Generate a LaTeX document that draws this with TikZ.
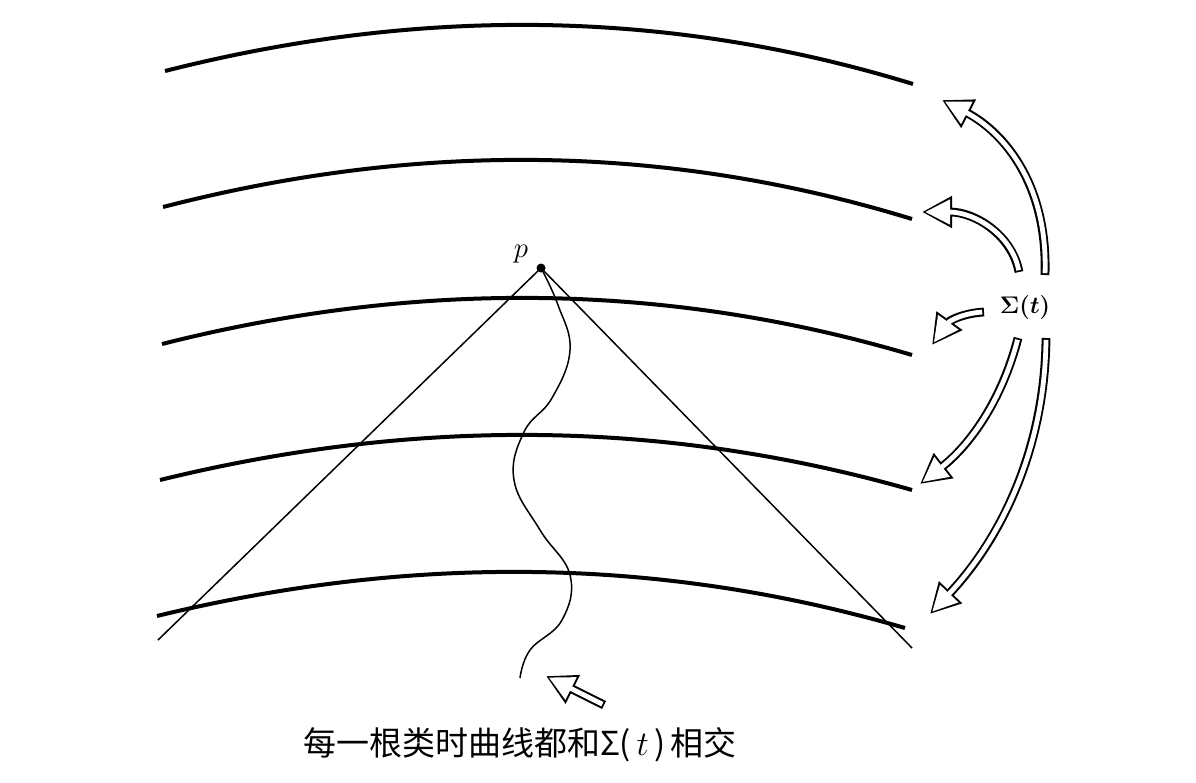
\documentclass[tikz,border=0pt]{standalone}
\usepackage[no-math]{fontspec}
\newfontfamily\cjk{Noto Sans CJK SC}
\usetikzlibrary{arrows.meta}
\begin{document}
\begin{tikzpicture}[x=0.5pt,y=-0.5pt,
  sheet/.style={line width=2pt},
  thinline/.style={line width=0.75pt},
  hollow/.style={line width=4.4pt,-{Triangle[length=15pt,width=15pt]}},
  hollowin/.style={line width=2.4pt,white,shorten <=0.9pt,shorten >=1.6pt,-{Triangle[length=12.4pt,width=12pt]}}]
\useasboundingbox (0,0) rectangle (1196,783);
\draw[sheet] (165,71) .. controls (415,7.5) and (664,7.5) .. (913,84);
\draw[sheet] (163,207) .. controls (413,142.3) and (662,142.3) .. (912,219);
\draw[sheet] (162,344) .. controls (412,280.8) and (662,280.8) .. (912,355);
\draw[sheet] (160,480) .. controls (411,418.3) and (661,418.3) .. (912,490);
\draw[sheet] (157,616) .. controls (406,555.3) and (656,555.3) .. (905,628);
\coordinate (p) at (541,268);
\coordinate (l) at (158,640);
\coordinate (r) at (912,648);
\draw[thinline] (l) -- (p) -- (r);
\fill (p) circle (4.5);
\node[font=\fontsize{14}{14}\selectfont] (plab) at (521,254) {$p$};
\draw[thinline,smooth,tension=0.7] plot coordinates {(541,268) (558,305) (570,350) (552,398) (524,432) (514,480) (540,530) (570,575) (562,620) (530,650) (520,678)};
\node[font={\boldmath\fontsize{13}{13}\selectfont}] (sig) at (1025,307) {$\Sigma(t)$};
\coordinate (a1s) at (1045,275); \coordinate (a1e) at (942,100);
\coordinate (a2s) at (1019,272); \coordinate (a2e) at (922,212);
\coordinate (a3s) at (984,312); \coordinate (a3e) at (932,345);
\coordinate (a4s) at (1018,338); \coordinate (a4e) at (920,484);
\coordinate (a5s) at (1046,338); \coordinate (a5e) at (930,614);
\coordinate (b1s) at (604,705); \coordinate (b1e) at (546,676);
\foreach \st in {hollow,hollowin}{
\draw[\st] (a1s) .. controls (1048,180) and (1000,130) .. (a1e);
\draw[\st] (a2s) .. controls (1012,235) and (975,212) .. (a2e);
\draw[\st] (a3s) .. controls (965,313) and (950,320) .. (a3e);
\draw[\st] (a4s) .. controls (1002,400) and (970,445) .. (a4e);
\draw[\st] (a5s) .. controls (1045,450) and (1000,540) .. (a5e);
\draw[\st] (b1s) -- (b1e);
}
\node[font=\cjk\fontsize{16.5}{16.5}\selectfont] (cap) at (520,745) {每一根类时曲线都和Σ(\,$t$\,)\,相交};
\end{tikzpicture}
\end{document}
